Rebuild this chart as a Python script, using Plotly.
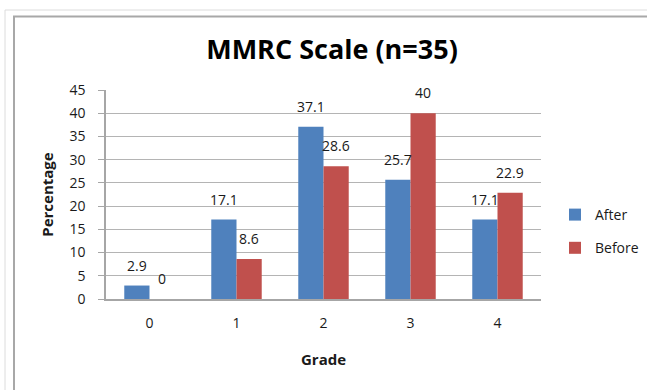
import plotly.graph_objects as go

grades = ["0", "1", "2", "3", "4"]
after_vals = [2.9, 17.1, 37.1, 25.7, 17.1]
before_vals = [0, 8.6, 28.6, 40, 22.9]
y_ticks = [0, 5, 10, 15, 20, 25, 30, 35, 40, 45]

W, H = 647, 390
L, R, T, B = 106, 541, 90, 299  # plot area in pixels

FONT = "'Open Sans', Lato, sans-serif"
C_AFTER = "#4F81BD"
C_BEFORE = "#C0504D"

fig = go.Figure()
fig.add_trace(go.Bar(x=grades, y=after_vals, name="After", marker_color=C_AFTER,
                     marker_line_width=0, legendgroup="a"))
fig.add_trace(go.Bar(x=grades, y=before_vals, name="Before", marker_color=C_BEFORE,
                     marker_line_width=0, legendgroup="b"))

# data labels
for vals, shift in ((after_vals, -12.5), (before_vals, 12.5)):
    for g, v in zip(grades, vals):
        fig.add_annotation(x=g, y=v, text=f"{v:g}", showarrow=False, xref="x", yref="y",
                           xshift=shift, yshift=9, yanchor="bottom",
                           font=dict(family=FONT, size=14, color="#1a1a1a"))

def px_x(p):
    return (p - L) / (R - L)

def px_y(p):
    return (B - p) / (B - T)

# chart borders
fig.add_shape(type="rect", xref="paper", yref="paper",
              x0=px_x(5), x1=px_x(700), y0=px_y(10), y1=px_y(450),
              line=dict(color="#dcdcdc", width=1), layer="below")
fig.add_shape(type="rect", xref="paper", yref="paper",
              x0=px_x(14), x1=px_x(700), y0=px_y(16.5), y1=px_y(450),
              line=dict(color="#a8a8a8", width=2), layer="below")

fig.update_layout(
    width=W, height=H,
    margin=dict(l=L, r=W - R, t=T, b=H - B, autoexpand=False),
    paper_bgcolor="white", plot_bgcolor="white",
    barmode="group", bargap=0.42, bargroupgap=0,
    title=dict(text="<b>MMRC Scale (n=35)</b>", x=332 / W, xanchor="center",
               y=1 - 50 / H, yanchor="middle",
               font=dict(family=FONT, size=27, color="#000")),
    font=dict(family=FONT, size=13, color="#1a1a1a"),
    showlegend=True,
    legend=dict(x=px_x(555), y=px_y(199), xanchor="left", yanchor="top",
                traceorder="grouped", tracegroupgap=12,
                font=dict(family=FONT, size=14, color="#1a1a1a"),
                bgcolor="rgba(0,0,0,0)", itemwidth=30),
)
fig.update_xaxes(
    showgrid=False, showline=True, linecolor="#a6a6a6", linewidth=1.5,
    ticks="", ticklabelstandoff=10, tickfont=dict(family=FONT, size=14, color="#1a1a1a"),
    title=dict(text="<b>Grade</b>", standoff=24, font=dict(family=FONT, size=15, color="#1a1a1a")),
    automargin=False,
)
fig.update_yaxes(
    range=[0, 45], tickvals=y_ticks, showgrid=True, gridcolor="#b4b4b4", gridwidth=1,
    showline=True, linecolor="#a6a6a6", linewidth=1.5, ticks="outside", ticklen=6,
    tickcolor="#a6a6a6", ticklabelstandoff=10, zeroline=False,
    tickfont=dict(family=FONT, size=14, color="#1a1a1a"),
    title=dict(text="<b>Percentage</b>", standoff=12, font=dict(family=FONT, size=15, color="#1a1a1a")),
    automargin=False,
)

fig.write_html("out.html", config={"displayModeBar": False},
               post_script="document.body.style.margin='0';")
